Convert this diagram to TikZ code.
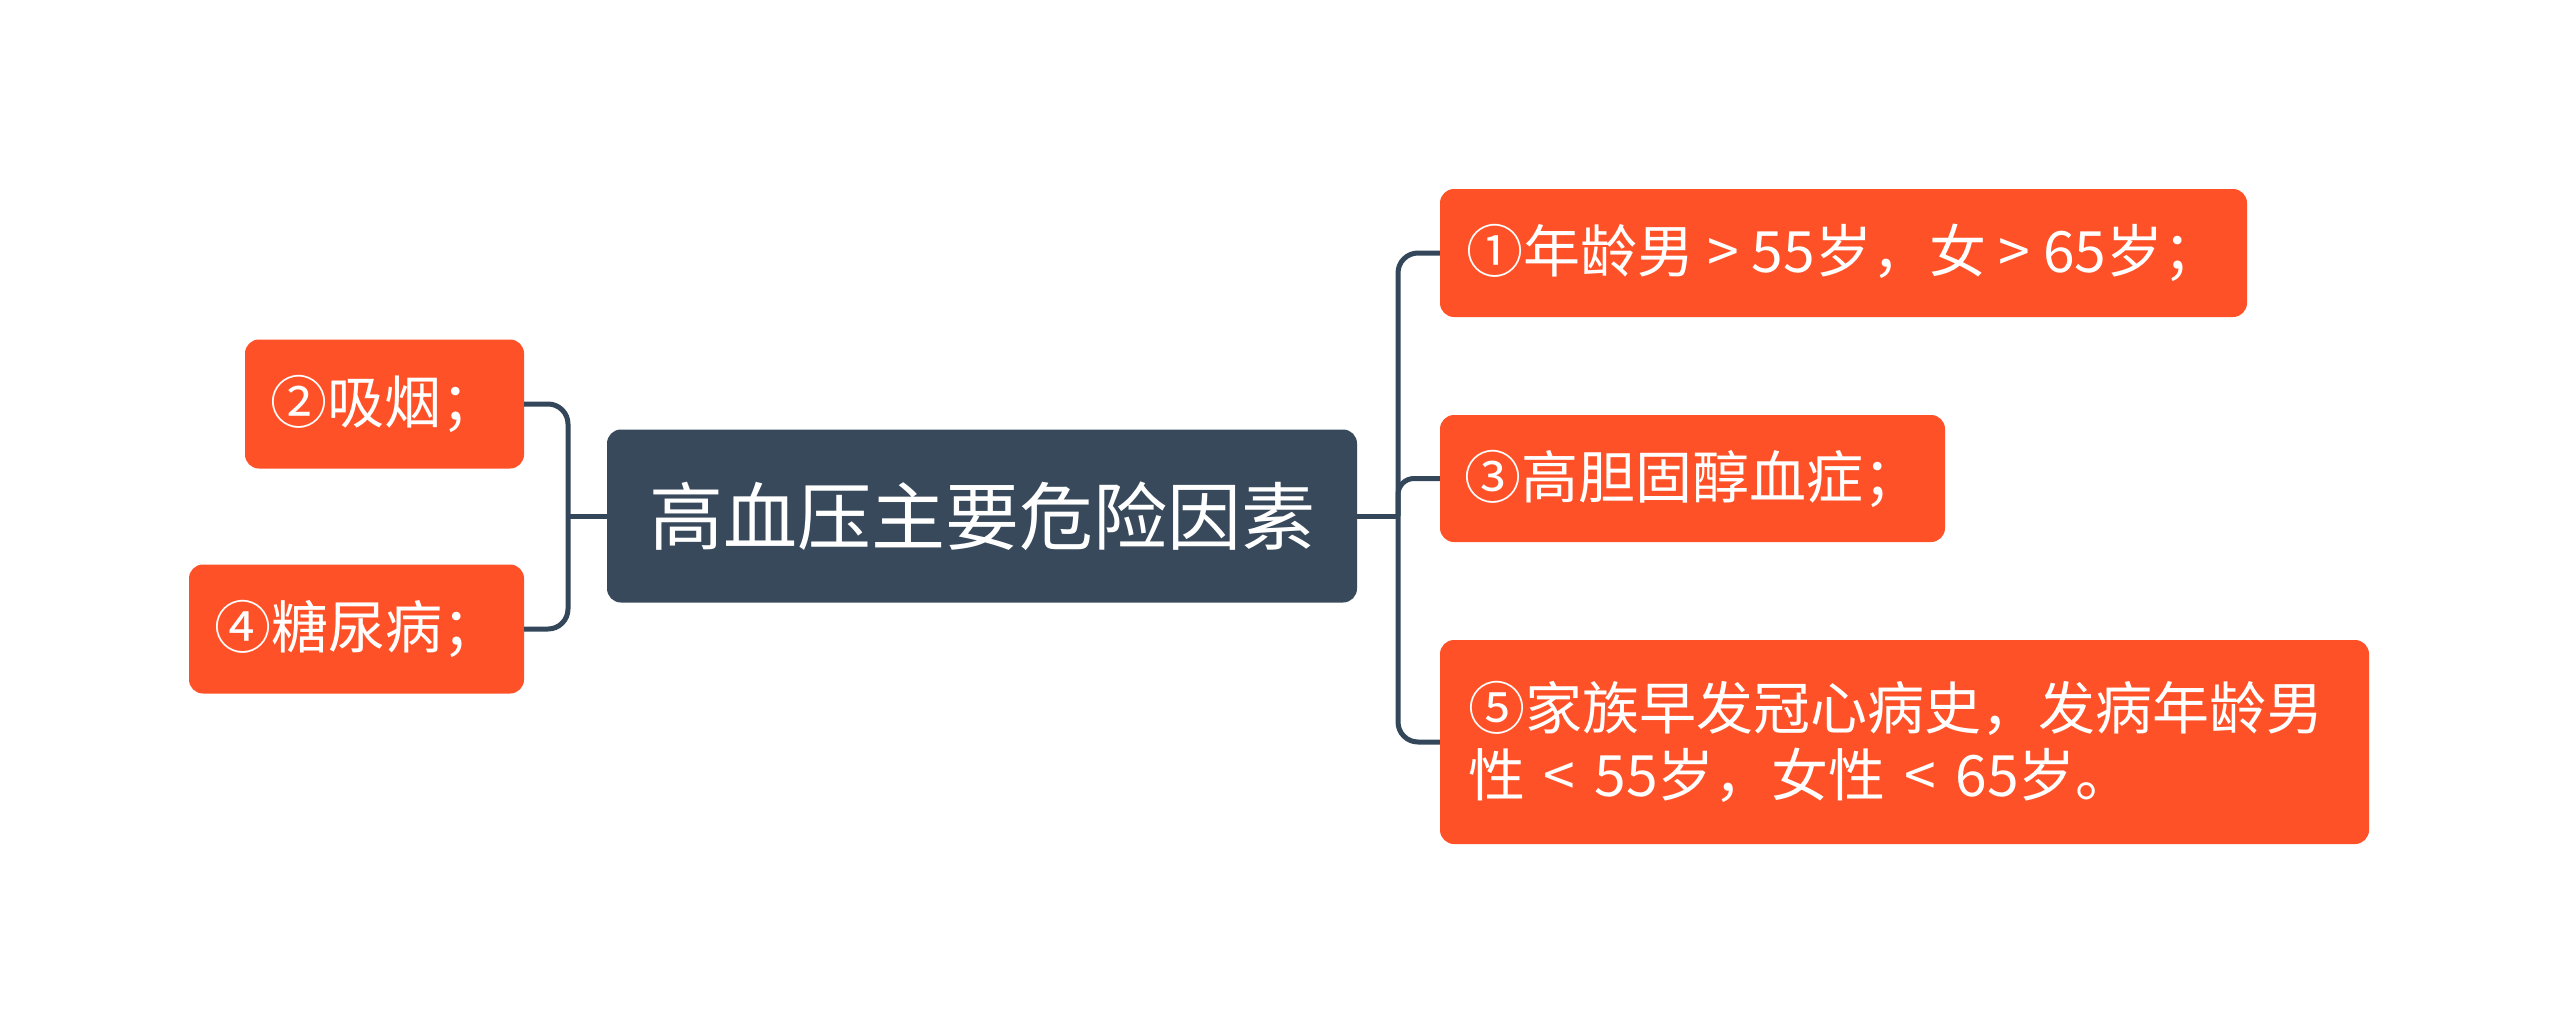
\documentclass[tikz,border=0pt]{standalone}
\usepackage{fontspec}
\newfontfamily\cjk{Noto Sans CJK SC}
\definecolor{slate}{HTML}{37495B}
\definecolor{lineclr}{HTML}{34475A}
\definecolor{orng}{HTML}{FF5127}
\tikzset{
  topic/.style={rectangle, rounded corners=14pt, fill=orng, text=white, inner sep=0pt,
    font=\cjk\fontsize{57}{67}\selectfont},
  central/.style={rectangle, rounded corners=14pt, fill=slate, text=white, inner sep=0pt,
    minimum width=750pt, minimum height=173pt, font=\cjk\fontsize{74}{88}\selectfont},
  conn/.style={draw=lineclr, line width=5pt, rounded corners=20pt}
}
\begin{document}
\begin{tikzpicture}[x=1pt,y=-1pt]
\useasboundingbox (0,0) rectangle (2560,1033);
\fill[white] (0,0) rectangle (2560,1033);
\node[central] (c) at (982,516) {高血压主要危险因素};
\node[topic, minimum width=279pt, minimum height=129pt] (n2) at (384.5,404) {②吸烟；};
\node[topic, minimum width=335pt, minimum height=129pt] (n4) at (356.5,629) {④糖尿病；};
\node[topic, minimum width=807pt, minimum height=128pt] (n1) at (1843.5,253) {①年龄男 > 55岁，女 > 65岁；};
\node[topic, minimum width=505pt, minimum height=127pt] (n3) at (1692.5,478.5) {③高胆固醇血症；};
\node[topic, minimum width=929pt, minimum height=204pt, text width=873pt, align=left] (n5) at (1904.5,742) {⑤家族早发冠心病史，发病年龄男\\性 < 55岁，女性 < 65岁。};
\coordinate (lj) at (568,516);
\coordinate (rj) at (1398,516);
\begin{scope}[on background layer/.try]
\draw[conn] (n2.east) -- (n2.east -| lj) -- (n4.east -| lj) -- (n4.east);
\draw[conn] (lj) -- (c.west);
\draw[conn] (c.east) -- (rj);
\draw[conn] (n1.west) -- (n1.west -| rj) -- (n5.west -| rj) -- (n5.west);
\draw[conn, rounded corners=16pt] (rj) -- (rj |- n3.west) -- (n3.west);
\end{scope}
\end{tikzpicture}
\end{document}
